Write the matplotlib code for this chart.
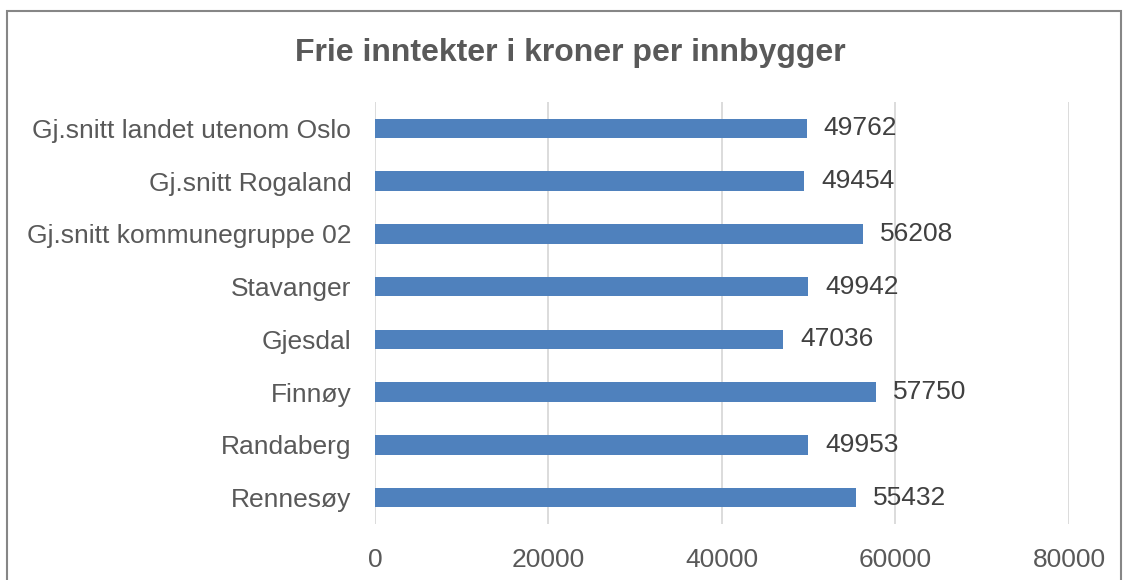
import matplotlib
matplotlib.use("Agg")
import matplotlib.pyplot as plt
from matplotlib.patches import Rectangle

# Data (top to bottom as shown)
categories = [
    "Gj.snitt landet utenom Oslo",
    "Gj.snitt Rogaland",
    "Gj.snitt kommunegruppe 02",
    "Stavanger",
    "Gjesdal",
    "Finnøy",
    "Randaberg",
    "Rennesøy",
]
values = [49762, 49454, 56208, 49942, 47036, 57750, 49953, 55432]
x_ticks = [0, 20000, 40000, 60000, 80000]

plt.rcParams["font.family"] = ["Liberation Sans", "DejaVu Sans"]

fig = plt.figure(figsize=(11.25, 5.8), dpi=100)
ax = fig.add_axes([0.3333, 0.0966, 0.6169, 0.7275])

pos = list(range(len(categories)))[::-1]
ax.barh(pos, values, height=0.37, color="#4F81BD", zorder=3)

for p, v in zip(pos, values):
    ax.annotate(str(v), (v, p), xytext=(17, 0), textcoords="offset pixels",
                ha="left", va="center", fontsize=19, color="#404040", zorder=4)

ax.set_xlim(0, 80000)
ax.set_ylim(-0.5, len(categories) - 0.5)
ax.set_xticks(x_ticks)
ax.set_xticklabels([str(t) for t in x_ticks])
ax.set_yticks(pos)
ax.set_yticklabels(categories)
ax.tick_params(axis="x", length=0, pad=17, labelsize=19, labelcolor="#595959")
ax.tick_params(axis="y", length=0, pad=17, labelsize=19, labelcolor="#595959")
ax.grid(axis="x", color="#D9D9D9", linewidth=1.3, zorder=0)
for s in ax.spines.values():
    s.set_visible(False)

fig.text(0.507, 0.908, "Frie inntekter i kroner per innbygger", ha="center", va="center",
         fontsize=23, fontweight="bold", color="#595959")

# chart border
fig.patches.append(Rectangle((7 / 1125, -0.05), 1114 / 1125, 1.05 - 11 / 580,
                             transform=fig.transFigure, fill=False,
                             edgecolor="#868686", linewidth=1.5))

fig.savefig("out.png", dpi=100)
